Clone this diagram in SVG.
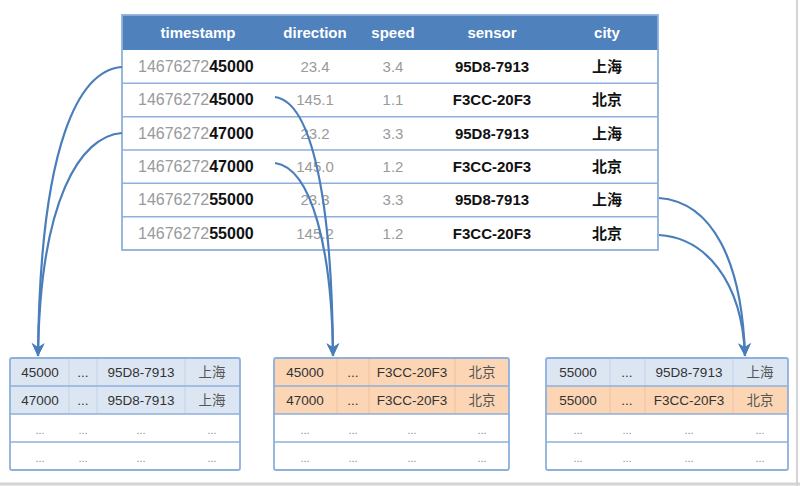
<svg xmlns="http://www.w3.org/2000/svg" width="800" height="486" viewBox="0 0 800 486">
<defs>
<style>
.hd{font-family:"Liberation Sans",Arial,sans-serif;font-size:15px;font-weight:bold;fill:#ffffff;text-anchor:middle}
.ts{font-family:"Liberation Sans",Arial,sans-serif;font-size:16px}
.g{fill:#9a9a9a}
.k{fill:#111111;font-weight:bold}
.num{font-family:"Liberation Sans",Arial,sans-serif;font-size:15px;fill:#9a9a9a;text-anchor:middle}
.sen{font-family:"Liberation Sans",Arial,sans-serif;font-size:15px;font-weight:bold;fill:#111111;text-anchor:middle}
.city{font-family:"Noto Sans CJK SC",sans-serif;font-size:15px;font-weight:bold;fill:#111111;text-anchor:middle}
.rowline{stroke:#8eb0dc;stroke-width:1.5;fill:none}
.bt{font-family:"Liberation Sans",Arial,sans-serif;font-size:13.5px;fill:#333333;text-anchor:middle}
.bc{font-family:"Noto Sans CJK SC",sans-serif;font-size:13.5px;fill:#555555;text-anchor:middle}
.dots{font-family:"Liberation Sans",Arial,sans-serif;font-size:11px;fill:#888888;text-anchor:middle}
.blue{fill:#dce6f2}
.orange{fill:#fcd5b5}
.vb{stroke:#c2d3ea;stroke-width:1}
.vo{stroke:#efc09c;stroke-width:1}
.frame{fill:none;stroke:#8eb0dc;stroke-width:1.8}
.conn{fill:none;stroke:#4a7ebb;stroke-width:2.2;marker-end:url(#ah)}
</style>
<marker id="ah" viewBox="0 0 12 12" markerWidth="14" markerHeight="14" refX="11" refY="6" orient="auto" markerUnits="userSpaceOnUse">
<path d="M0,0.5 L11.5,6 L0,11.5 L3.5,6 z" fill="#4a7ebb"/>
</marker>
</defs>
<rect x="0" y="0" width="800" height="486" fill="#ffffff"/>
<line x1="797" y1="0" x2="797" y2="486" stroke="#d4d4d4" stroke-width="2"/>
<line x1="0" y1="484" x2="800" y2="484" stroke="#d4d4d4" stroke-width="3"/>

<g id="source-table">
<rect x="122" y="15" width="536" height="235" fill="#ffffff"/>
<rect x="122" y="15" width="536" height="35" fill="#4f81bd"/>
<text class="hd" x="198" y="38">timestamp</text>
<text class="hd" x="315" y="38">direction</text>
<text class="hd" x="393" y="38">speed</text>
<text class="hd" x="492" y="38">sensor</text>
<text class="hd" x="607" y="38">city</text>
<path class="rowline" d="M122,83.3H658M122,116.7H658M122,150H658M122,183.3H658M122,216.7H658"/>
<rect class="frame" x="122" y="15" width="536" height="235"/>

<text class="ts" x="138" y="72"><tspan class="g">14676272</tspan><tspan class="k">45000</tspan></text>
<text class="num" x="315" y="72">23.4</text>
<text class="num" x="393" y="72">3.4</text>
<text class="sen" x="492" y="72">95D8-7913</text>
<text class="city" x="607" y="72">上海</text>

<text class="ts" x="138" y="105"><tspan class="g">14676272</tspan><tspan class="k">45000</tspan></text>
<text class="num" x="315" y="105">145.1</text>
<text class="num" x="393" y="105">1.1</text>
<text class="sen" x="492" y="105">F3CC-20F3</text>
<text class="city" x="607" y="105">北京</text>

<text class="ts" x="138" y="138.5"><tspan class="g">14676272</tspan><tspan class="k">47000</tspan></text>
<text class="num" x="315" y="138.5">23.2</text>
<text class="num" x="393" y="138.5">3.3</text>
<text class="sen" x="492" y="138.5">95D8-7913</text>
<text class="city" x="607" y="138.5">上海</text>

<text class="ts" x="138" y="172"><tspan class="g">14676272</tspan><tspan class="k">47000</tspan></text>
<text class="num" x="315" y="172">145.0</text>
<text class="num" x="393" y="172">1.2</text>
<text class="sen" x="492" y="172">F3CC-20F3</text>
<text class="city" x="607" y="172">北京</text>

<text class="ts" x="138" y="205"><tspan class="g">14676272</tspan><tspan class="k">55000</tspan></text>
<text class="num" x="315" y="205">23.3</text>
<text class="num" x="393" y="205">3.3</text>
<text class="sen" x="492" y="205">95D8-7913</text>
<text class="city" x="607" y="205">上海</text>

<text class="ts" x="138" y="238.5"><tspan class="g">14676272</tspan><tspan class="k">55000</tspan></text>
<text class="num" x="315" y="238.5">145.2</text>
<text class="num" x="393" y="238.5">1.2</text>
<text class="sen" x="492" y="238.5">F3CC-20F3</text>
<text class="city" x="607" y="238.5">北京</text>
</g>

<g id="partition-1">
<rect class="blue" x="10" y="358" width="230" height="28"/>
<rect class="blue" x="10" y="386" width="230" height="28"/>
<path class="vb" d="M69,358V414M97,358V414M185,358V414"/>
<path class="rowline" d="M10,386H240M10,414H240M10,442H240"/>
<rect class="frame" x="10" y="358" width="230" height="112" rx="2"/>
<text class="bt" x="40" y="377">45000</text><text class="bt" x="83" y="377">...</text><text class="bt" x="141" y="377">95D8-7913</text><text class="bc" x="212" y="377">上海</text>
<text class="bt" x="40" y="405">47000</text><text class="bt" x="83" y="405">...</text><text class="bt" x="141" y="405">95D8-7913</text><text class="bc" x="212" y="405">上海</text>
<text class="dots" x="40" y="434">...</text><text class="dots" x="83" y="434">...</text><text class="dots" x="141" y="434">...</text><text class="dots" x="212" y="434">...</text>
<text class="dots" x="40" y="462">...</text><text class="dots" x="83" y="462">...</text><text class="dots" x="141" y="462">...</text><text class="dots" x="212" y="462">...</text>
</g>

<g id="partition-2">
<rect class="orange" x="274" y="358" width="235" height="28"/>
<rect class="orange" x="274" y="386" width="235" height="28"/>
<path class="vo" d="M337,358V414M369,358V414M455,358V414"/>
<path class="rowline" d="M274,386H509M274,414H509M274,442H509"/>
<rect class="frame" x="274" y="358" width="235" height="112" rx="2"/>
<text class="bt" x="305" y="377">45000</text><text class="bt" x="353" y="377">...</text><text class="bt" x="412" y="377">F3CC-20F3</text><text class="bc" x="482" y="377">北京</text>
<text class="bt" x="305" y="405">47000</text><text class="bt" x="353" y="405">...</text><text class="bt" x="412" y="405">F3CC-20F3</text><text class="bc" x="482" y="405">北京</text>
<text class="dots" x="305" y="434">...</text><text class="dots" x="353" y="434">...</text><text class="dots" x="412" y="434">...</text><text class="dots" x="482" y="434">...</text>
<text class="dots" x="305" y="462">...</text><text class="dots" x="353" y="462">...</text><text class="dots" x="412" y="462">...</text><text class="dots" x="482" y="462">...</text>
</g>

<g id="partition-3">
<rect class="blue" x="546" y="358" width="242" height="28"/>
<rect class="orange" x="546" y="386" width="242" height="28"/>
<path class="vb" d="M610,358V386M645,358V386M733,358V386"/>
<path class="vo" d="M610,386V414M645,386V414M733,386V414"/>
<path class="rowline" d="M546,386H788M546,414H788M546,442H788"/>
<rect class="frame" x="546" y="358" width="242" height="112" rx="2"/>
<text class="bt" x="578" y="377">55000</text><text class="bt" x="627" y="377">...</text><text class="bt" x="689" y="377">95D8-7913</text><text class="bc" x="760" y="377">上海</text>
<text class="bt" x="578" y="405">55000</text><text class="bt" x="627" y="405">...</text><text class="bt" x="689" y="405">F3CC-20F3</text><text class="bc" x="760" y="405">北京</text>
<text class="dots" x="578" y="434">...</text><text class="dots" x="627" y="434">...</text><text class="dots" x="689" y="434">...</text><text class="dots" x="760" y="434">...</text>
<text class="dots" x="578" y="462">...</text><text class="dots" x="627" y="462">...</text><text class="dots" x="689" y="462">...</text><text class="dots" x="760" y="462">...</text>
</g>

<g id="connectors">
<path class="conn" d="M122,67 C80,70 40,140 38,356"/>
<path class="conn" d="M122,133 C80,136 40,200 38,356"/>
<path class="conn" d="M275,97 C312,102 332,200 333,356"/>
<path class="conn" d="M275,163 C312,168 332,250 333,356"/>
<path class="conn" d="M659,198 C712,202 742,260 745,356"/>
<path class="conn" d="M659,235 C705,238 742,280 745,356"/>
</g>
</svg>
